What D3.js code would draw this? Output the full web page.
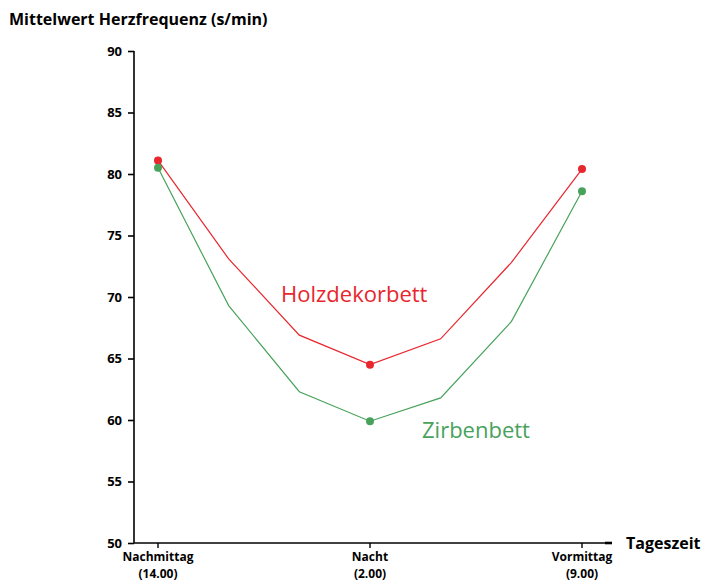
<!DOCTYPE html>
<html>
<head>
<meta charset="utf-8">
<script src="https://cdn.jsdelivr.net/npm/d3@7"></script>
<style>
  body { margin: 0; background: #fff; }
  svg text { font-family: "Open Sans", "DejaVu Sans", sans-serif; }
</style>
</head>
<body>
<div id="chart"></div>
<script>
// heart rate by time of day, two bed types
var timeSlots = [0, 1, 2, 3, 4, 5, 6],
    tickSlots = [0, 3, 6],
    tickLabels = [["Nachmittag", "(14.00)"], ["Nacht", "(2.00)"], ["Vormittag", "(9.00)"]],
    holzValues = [81.1, 73.1, 66.9, 64.5, 66.6, 72.8, 80.4],
    zirbenValues = [80.5, 69.3, 62.3, 59.9, 61.8, 68.0, 78.6],
    yTicks = [50, 55, 60, 65, 70, 75, 80, 85, 90];

var width = 704, height = 583,
    margin = {top: 51, right: 93, bottom: 40, left: 134},
    red = "#e8262d", green = "#48a25c";

var svg = d3.select("#chart").append("svg")
    .attr("width", width).attr("height", height);

var xScale = d3.scaleLinear().domain([0, 6]).range([158, 582]);
var yScale = d3.scaleLinear().domain([50, 90]).range([543, 51]);

// y axis
var yAxis = d3.axisLeft(yScale).tickValues(yTicks).tickSize(6).tickPadding(6);
var gy = svg.append("g")
    .attr("transform", "translate(" + margin.left + ",0)")
    .call(yAxis);
gy.select(".domain").attr("d", "M0," + yScale(90) + "V" + yScale(50)).attr("stroke-width", 1.6);
gy.selectAll(".tick line").attr("stroke-width", 1.6);
gy.selectAll(".tick text")
    .style("font-size", "13px").style("font-weight", "bold")
    .attr("fill", "#000");

// x axis
var gx = svg.append("g")
    .attr("transform", "translate(0," + yScale(50) + ")");
gx.append("line")
    .attr("x1", margin.left).attr("x2", 612)
    .attr("stroke", "#000").attr("stroke-width", 1.6);
gx.append("line")
    .attr("x1", 605).attr("x2", 612)
    .attr("stroke", "#000").attr("stroke-width", 2.6);
gx.selectAll(".xtick")
    .data(tickSlots)
    .join("line")
    .attr("class", "xtick")
    .attr("x1", d => xScale(d)).attr("x2", d => xScale(d))
    .attr("y1", 0).attr("y2", 5)
    .attr("stroke", "#000").attr("stroke-width", 1.4);
// two-line tick labels, one text per line
[0, 1].forEach(function(row){
  gx.selectAll(".xlab" + row)
      .data(tickSlots)
      .join("text")
      .attr("class", "xlab" + row)
      .attr("x", d => xScale(d))
      .attr("y", row === 0 ? 18 : 35)
      .attr("text-anchor", "middle")
      .style("font-size", "12px").style("font-weight", "bold")
      .text((d, i) => tickLabels[i][row]);
});

// axis titles
svg.append("text")
    .attr("x", 9).attr("y", 25)
    .style("font-size", "16px").style("font-weight", "bold")
    .text("Mittelwert Herzfrequenz (s/min)");
svg.append("text")
    .attr("x", 626).attr("y", 549)
    .style("font-size", "16px").style("font-weight", "bold")
    .text("Tageszeit");

var line = d3.line()
    .x((d, i) => xScale(timeSlots[i]))
    .y(d => yScale(d));

function drawSeries(values, color){
  svg.append("path")
      .datum(values)
      .attr("d", line)
      .attr("fill", "none")
      .attr("stroke", color)
      .attr("stroke-width", 1.2);
  svg.selectAll(null)
      .data(tickSlots)
      .join("circle")
      .attr("cx", d => xScale(d))
      .attr("cy", d => yScale(values[d]))
      .attr("r", 4)
      .attr("fill", color);
}
drawSeries(holzValues, red);
drawSeries(zirbenValues, green);

// series labels
svg.append("text")
    .attr("x", 281).attr("y", 302)
    .style("font-size", "22px")
    .attr("fill", red)
    .text("Holzdekorbett");
svg.append("text")
    .attr("x", 422).attr("y", 438)
    .style("font-size", "22px")
    .attr("fill", green)
    .text("Zirbenbett");
</script>
</body>
</html>
